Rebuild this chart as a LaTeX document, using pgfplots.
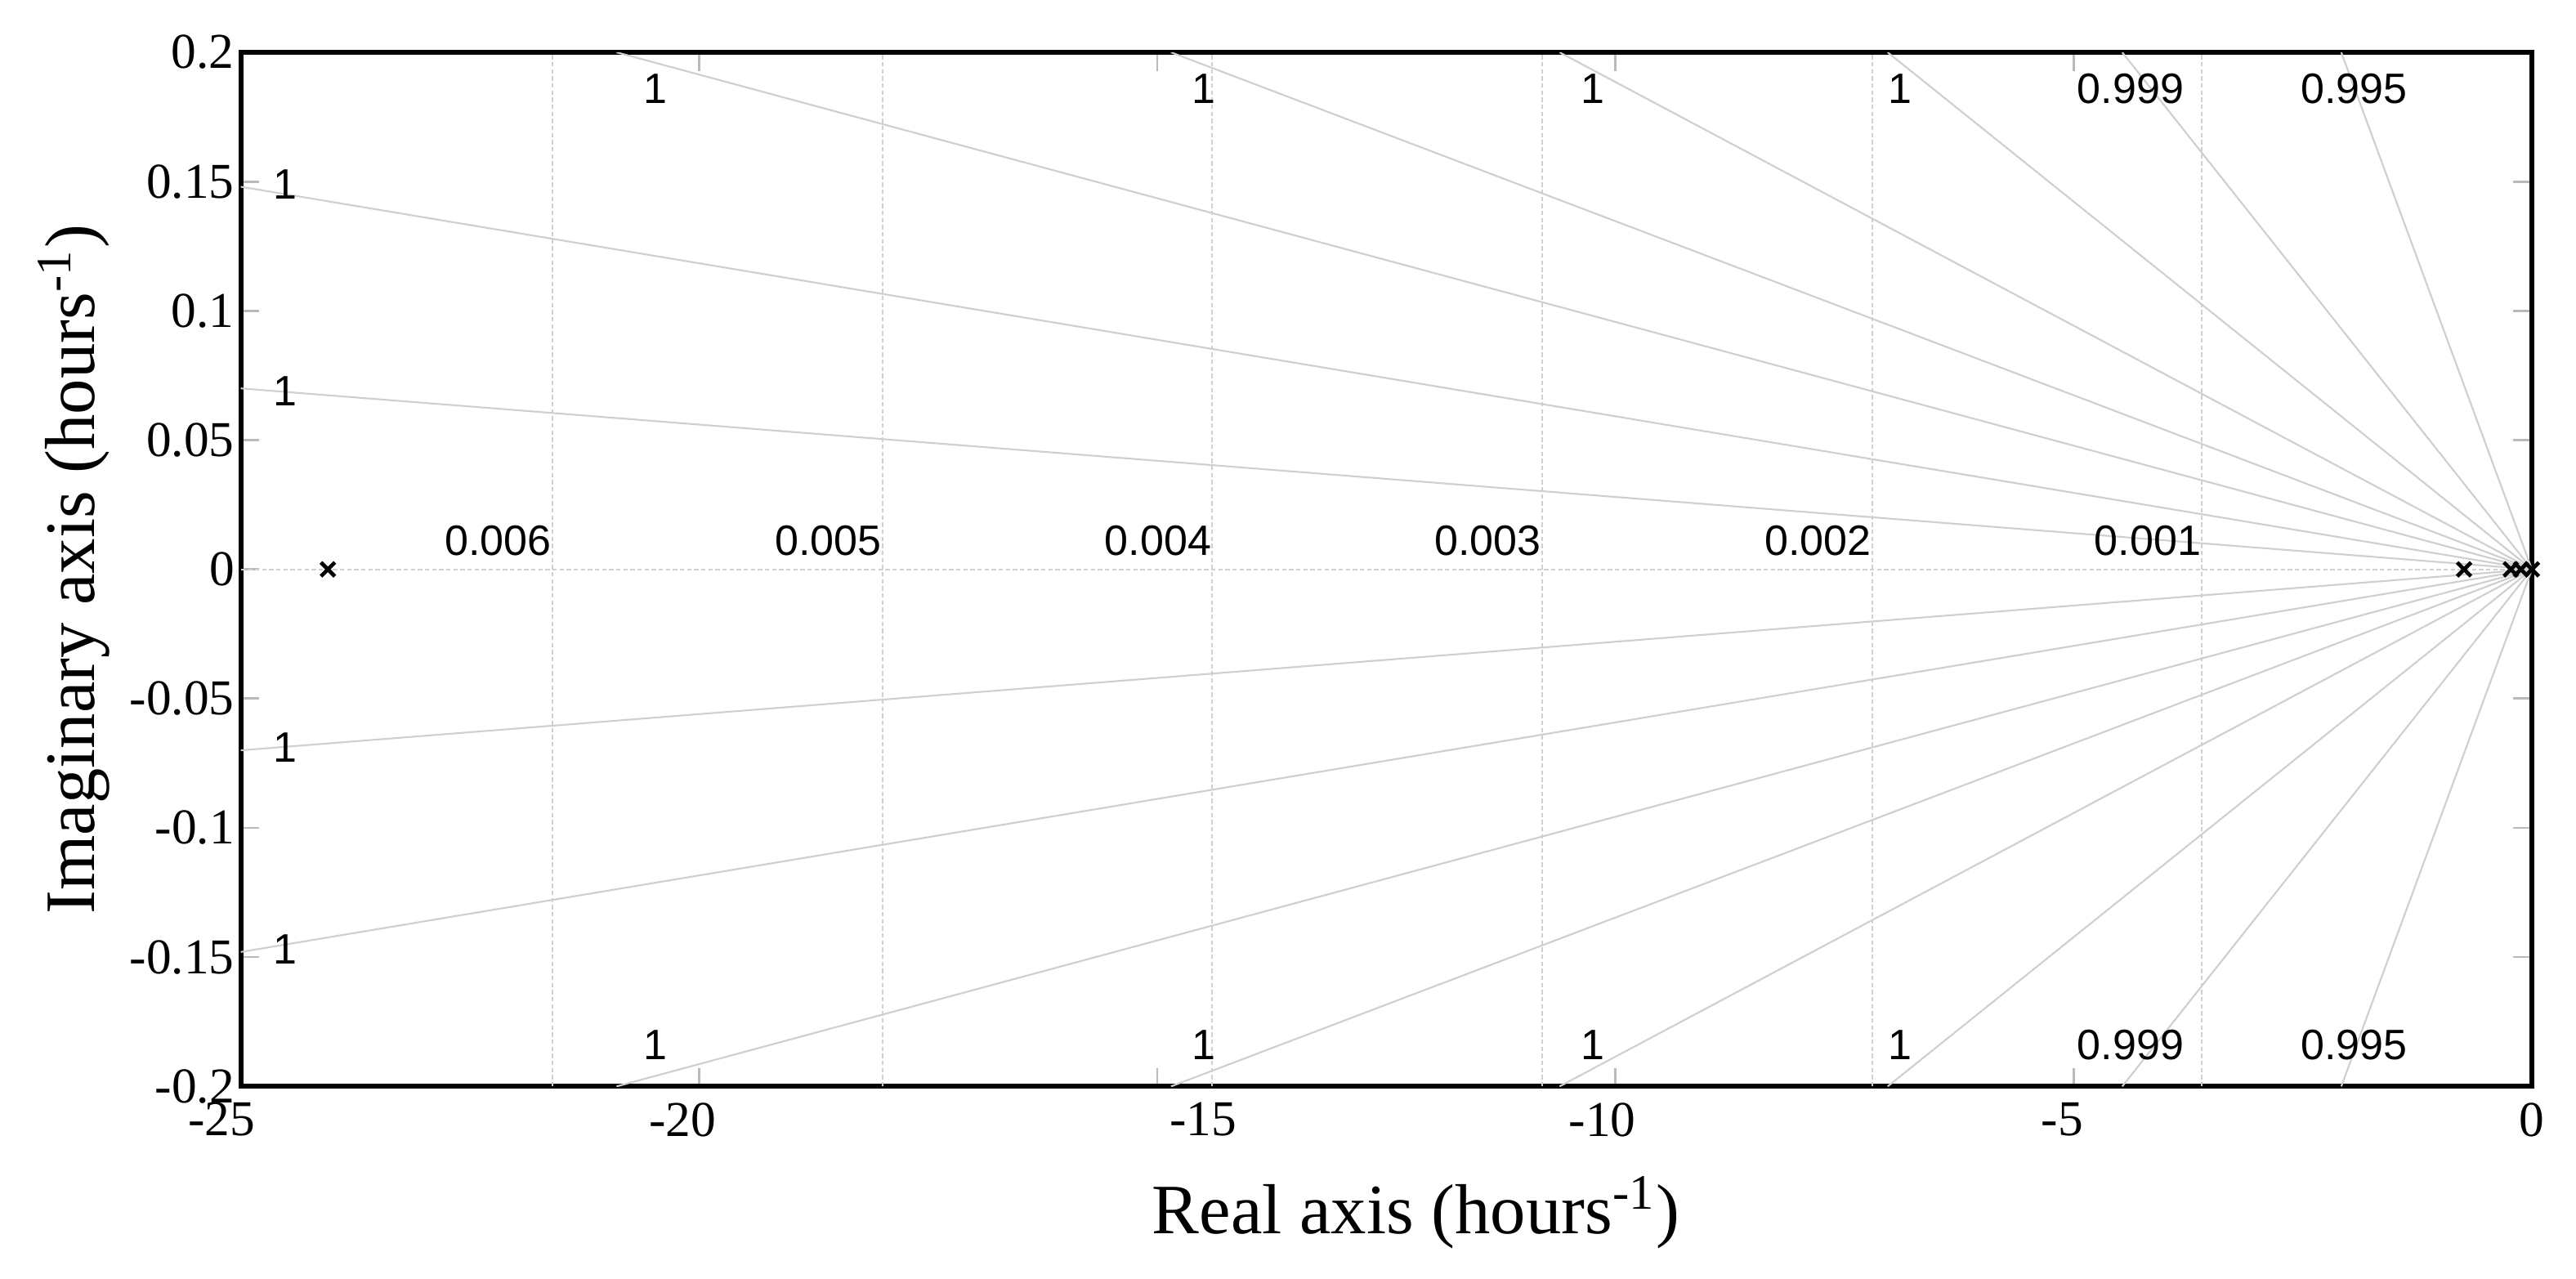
\documentclass[border=0pt]{standalone}
\usepackage{fontspec}
\setmainfont{Liberation Serif}
\newfontfamily\gridfont{Liberation Sans}
\usepackage{pgfplots}
\pgfplotsset{compat=1.18}

\tikzset{
    damp/.style={gray!38, line width=0.32pt},
    wn/.style={gray!38, line width=0.3pt, dash pattern=on 0.8pt off 0.5pt},
    lbl/.style={font=\gridfont\fontsize{7.8}{9}\selectfont, inner sep=0pt},
}

\begin{document}
\begin{tikzpicture}
\useasboundingbox (-44.2pt,-35.3pt) rectangle (428.6pt,199.4pt);
\begin{axis}[
    at={(0,0)}, anchor=south west,
    width=420.5pt, height=189.8pt, scale only axis,
    xmin=-25, xmax=0, ymin=-0.2, ymax=0.2,
    xtick={-25,-20,-15,-10,-5,0},
    % labels nudged as in the reference
    xticklabels={\hspace*{-7pt}-25,\hspace*{-6pt}-20,\hspace*{16.8pt}-15,
                 \hspace*{-4.8pt}-10,\hspace*{-4.2pt}-5,0},
    ytick={-0.2,-0.15,-0.1,-0.05,0,0.05,0.1,0.15,0.2},
    yticklabels={-0.2,-0.15,-0.1,-0.05,0,0.05,0.1,0.15,0.2},
    xtick pos=both, ytick pos=both,
    xticklabel pos=lower, yticklabel pos=left,
    tick align=inside, major tick length=3.4pt,
    tick style={gray!55, line width=0.4pt},
    tick label style={font=\fontsize{9.2}{10}\selectfont, inner sep=1pt},
    xticklabel style={yshift=-1.8pt},
    axis line style={black, line width=0.9pt},
    label style={font=\fontsize{13}{15}\selectfont},
    xlabel={Real axis (hours\textsuperscript{-1})},
    ylabel={Imaginary axis (hours\textsuperscript{-1})},
    xlabel style={at={(axis description cs:0.513,-0.122)}, anchor=center},
    ylabel style={at={(axis description cs:-0.073,0.5)}, anchor=center},
    clip mode=individual,
]
% damping ratio lines (upper half)
\addplot[damp] coordinates {(0,0) (-25,0.148)};
\addplot[damp] coordinates {(0,0) (-25,0.070)};
\addplot[damp] coordinates {(0,0) (-20.9,0.2)};
\addplot[damp] coordinates {(0,0) (-14.85,0.2)};
\addplot[damp] coordinates {(0,0) (-10.61,0.2)};
\addplot[damp] coordinates {(0,0) (-7.03,0.2)};
\addplot[damp] coordinates {(0,0) (-4.47,0.2)};
\addplot[damp] coordinates {(0,0) (-2.08,0.2)};
% damping ratio lines (lower half)
\addplot[damp] coordinates {(0,0) (-25,-0.148)};
\addplot[damp] coordinates {(0,0) (-25,-0.070)};
\addplot[damp] coordinates {(0,0) (-20.9,-0.2)};
\addplot[damp] coordinates {(0,0) (-14.85,-0.2)};
\addplot[damp] coordinates {(0,0) (-10.61,-0.2)};
\addplot[damp] coordinates {(0,0) (-7.03,-0.2)};
\addplot[damp] coordinates {(0,0) (-4.47,-0.2)};
\addplot[damp] coordinates {(0,0) (-2.08,-0.2)};
% natural frequency lines
\addplot[wn] coordinates {(-25,0) (0,0)};
\addplot[wn] coordinates {(-3.6,-0.2) (-3.6,0.2)};
\addplot[wn] coordinates {(-7.2,-0.2) (-7.2,0.2)};
\addplot[wn] coordinates {(-10.8,-0.2) (-10.8,0.2)};
\addplot[wn] coordinates {(-14.4,-0.2) (-14.4,0.2)};
\addplot[wn] coordinates {(-18.0,-0.2) (-18.0,0.2)};
\addplot[wn] coordinates {(-21.6,-0.2) (-21.6,0.2)};
% poles
\addplot[only marks, mark=x, mark size=1.8pt, line width=0.7pt, black]
  coordinates {(-24.05,0) (-0.74,0) (-0.23,0) (-0.12,0) (0,0)};

% damping labels
\node[lbl] at (axis cs:-24.52,0.149) {1};
\node[lbl] at (axis cs:-24.52,0.069) {1};
\node[lbl] at (axis cs:-24.52,-0.069) {1};
\node[lbl] at (axis cs:-24.52,-0.147) {1};
\node[lbl] at (axis cs:-20.48,0.1858) {1};
\node[lbl] at (axis cs:-14.49,0.1858) {1};
\node[lbl] at (axis cs:-10.25,0.1858) {1};
\node[lbl] at (axis cs:-6.89,0.1858) {1};
\node[lbl] at (axis cs:-4.38,0.1858) {0.999};
\node[lbl] at (axis cs:-1.94,0.1858) {0.995};
\node[lbl] at (axis cs:-20.48,-0.1839) {1};
\node[lbl] at (axis cs:-14.49,-0.1839) {1};
\node[lbl] at (axis cs:-10.25,-0.1839) {1};
\node[lbl] at (axis cs:-6.89,-0.1839) {1};
\node[lbl] at (axis cs:-4.38,-0.1839) {0.999};
\node[lbl] at (axis cs:-1.94,-0.1839) {0.995};
% frequency labels
\node[lbl, anchor=east] at (axis cs:-21.6,0.0112) {0.006};
\node[lbl, anchor=east] at (axis cs:-18.0,0.0112) {0.005};
\node[lbl, anchor=east] at (axis cs:-14.4,0.0112) {0.004};
\node[lbl, anchor=east] at (axis cs:-10.8,0.0112) {0.003};
\node[lbl, anchor=east] at (axis cs:-7.2,0.0112) {0.002};
\node[lbl, anchor=east] at (axis cs:-3.6,0.0112) {0.001};
\end{axis}
\end{tikzpicture}
\end{document}
